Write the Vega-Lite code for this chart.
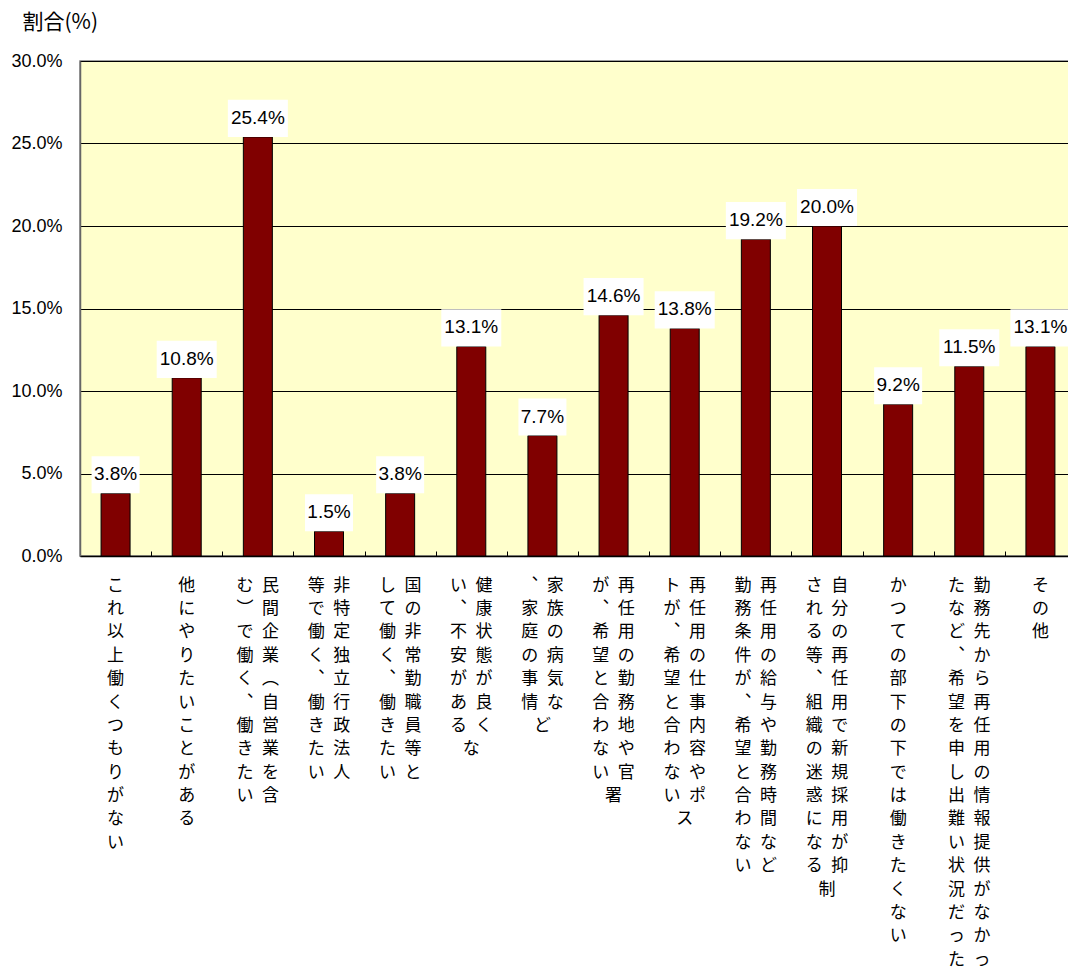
{
  "$schema": "https://vega.github.io/schema/vega-lite/v6.json",
  "autosize": {"type": "none"},
  "padding": {"left": 80, "top": 61, "right": -8, "bottom": 419},
  "width": 996,
  "height": 495,
  "background": "white",
  "config": {"view": {"fill": "#FFFFCC", "stroke": "#808080", "strokeWidth": 1.5}},
  "data": {"values": [
    {"理由": "これ以上働くつもりがない", "割合": 3.8, "表示": "3.8%"},
    {"理由": "他にやりたいことがある", "割合": 10.8, "表示": "10.8%"},
    {"理由": "民間企業（自営業を含\nむ）で働く、働きたい", "割合": 25.4, "表示": "25.4%"},
    {"理由": "非特定独立行政法人\n等で働く、働きたい", "割合": 1.5, "表示": "1.5%"},
    {"理由": "国の非常勤職員等と\nして働く、働きたい", "割合": 3.8, "表示": "3.8%"},
    {"理由": "健康状態が良くな\nい、不安がある", "割合": 12.7, "表示": "13.1%"},
    {"理由": "家族の病気など\n、家庭の事情", "割合": 7.3, "表示": "7.7%"},
    {"理由": "再任用の勤務地や官署\nが、希望と合わない", "割合": 14.6, "表示": "14.6%"},
    {"理由": "再任用の仕事内容やポス\nトが、希望と合わない", "割合": 13.8, "表示": "13.8%"},
    {"理由": "再任用の給与や勤務時間など\n勤務条件が、希望と合わない", "割合": 19.2, "表示": "19.2%"},
    {"理由": "自分の再任用で新規採用が抑制\nされる等、組織の迷惑になる", "割合": 20.0, "表示": "20.0%"},
    {"理由": "かつての部下の下では働きたくない", "割合": 9.2, "表示": "9.2%"},
    {"理由": "勤務先から再任用の情報提供がなかっ\nたなど、希望を申し出難い状況だった", "割合": 11.5, "表示": "11.5%"},
    {"理由": "その他", "割合": 12.7, "表示": "13.1%"}
  ]},
  "resolve": {"axis": {"x": "independent"}},
  "encoding": {
    "y": {
      "field": "割合", "type": "quantitative",
      "scale": {"domain": [0, 30], "nice": false},
      "axis": {
        "values": [0, 5, 10, 15, 20, 25, 30],
        "labelExpr": "format(datum.value, '.1f') + '%'",
        "title": "割合(%)", "titleAngle": 0, "titleX": -58, "titleY": -39,
        "titleAlign": "left", "titleBaseline": "middle",
        "titleFont": "Noto Sans CJK JP", "titleFontSize": 21, "titleFontWeight": "normal", "titleColor": "#000",
        "labelFont": "Liberation Sans", "labelFontSize": 18, "labelColor": "#000", "labelPadding": 24,
        "grid": true, "gridColor": "#000", "gridWidth": 1,
        "domainColor": "#666", "domainWidth": 1.5,
        "tickColor": "#000", "tickSize": -6
      }
    }
  },
  "layer": [
    {
      "mark": {"type": "bar", "size": 29, "color": "#800000", "stroke": "#000", "strokeWidth": 1},
      "encoding": {
        "x": {
          "field": "理由", "type": "nominal", "sort": null,
          "scale": {"paddingInner": 0, "paddingOuter": 0},
          "axis": {"orient": "bottom", "title": null, "labels": false, "domain": false, "grid": false,
                   "ticks": true, "tickBand": "extent", "tickColor": "#000", "tickSize": -5, "tickWidth": 1}
        }
      }
    },
    {
      "transform": [{"filter": "length(datum['表示']) > 4"}],
      "mark": {"type": "point", "filled": true, "color": "white", "opacity": 1, "size": 3600, "shape": "M-1,-0.62H1V0.62H-1Z", "yOffset": -18.5},
      "encoding": {
        "x": {
          "field": "理由", "type": "nominal", "sort": null,
          "axis": {
            "orient": "bottom", "title": null, "labelAngle": 0, "labelAlign": "center", "labelBaseline": "top",
            "labelFont": "Noto Sans CJK JP", "labelFontSize": 17, "labelLineHeight": 23.4,
            "labelColor": "#000", "labelPadding": 21, "labelOverlap": false, "labelLimit": 1000,
            "labelBound": false, "labelFlush": false, "grid": false,
            "domainColor": "#000", "domainWidth": 1.5,
            "ticks": false,
            "labelExpr": "[(indexof(datum.value,'\\n')<0?'':(substring(split(replace(replace(replace(datum.value,'、','︑'),'（','︵'),'）','︶'),'\\n')[1],0,1)||'\u3000')+'\u2002')+(substring(split(replace(replace(replace(datum.value,'、','︑'),'（','︵'),'）','︶'),'\\n')[0],0,1)||'\u3000'),(indexof(datum.value,'\\n')<0?'':(substring(split(replace(replace(replace(datum.value,'、','︑'),'（','︵'),'）','︶'),'\\n')[1],1,2)||'\u3000')+'\u2002')+(substring(split(replace(replace(replace(datum.value,'、','︑'),'（','︵'),'）','︶'),'\\n')[0],1,2)||'\u3000'),(indexof(datum.value,'\\n')<0?'':(substring(split(replace(replace(replace(datum.value,'、','︑'),'（','︵'),'）','︶'),'\\n')[1],2,3)||'\u3000')+'\u2002')+(substring(split(replace(replace(replace(datum.value,'、','︑'),'（','︵'),'）','︶'),'\\n')[0],2,3)||'\u3000'),(indexof(datum.value,'\\n')<0?'':(substring(split(replace(replace(replace(datum.value,'、','︑'),'（','︵'),'）','︶'),'\\n')[1],3,4)||'\u3000')+'\u2002')+(substring(split(replace(replace(replace(datum.value,'、','︑'),'（','︵'),'）','︶'),'\\n')[0],3,4)||'\u3000'),(indexof(datum.value,'\\n')<0?'':(substring(split(replace(replace(replace(datum.value,'、','︑'),'（','︵'),'）','︶'),'\\n')[1],4,5)||'\u3000')+'\u2002')+(substring(split(replace(replace(replace(datum.value,'、','︑'),'（','︵'),'）','︶'),'\\n')[0],4,5)||'\u3000'),(indexof(datum.value,'\\n')<0?'':(substring(split(replace(replace(replace(datum.value,'、','︑'),'（','︵'),'）','︶'),'\\n')[1],5,6)||'\u3000')+'\u2002')+(substring(split(replace(replace(replace(datum.value,'、','︑'),'（','︵'),'）','︶'),'\\n')[0],5,6)||'\u3000'),(indexof(datum.value,'\\n')<0?'':(substring(split(replace(replace(replace(datum.value,'、','︑'),'（','︵'),'）','︶'),'\\n')[1],6,7)||'\u3000')+'\u2002')+(substring(split(replace(replace(replace(datum.value,'、','︑'),'（','︵'),'）','︶'),'\\n')[0],6,7)||'\u3000'),(indexof(datum.value,'\\n')<0?'':(substring(split(replace(replace(replace(datum.value,'、','︑'),'（','︵'),'）','︶'),'\\n')[1],7,8)||'\u3000')+'\u2002')+(substring(split(replace(replace(replace(datum.value,'、','︑'),'（','︵'),'）','︶'),'\\n')[0],7,8)||'\u3000'),(indexof(datum.value,'\\n')<0?'':(substring(split(replace(replace(replace(datum.value,'、','︑'),'（','︵'),'）','︶'),'\\n')[1],8,9)||'\u3000')+'\u2002')+(substring(split(replace(replace(replace(datum.value,'、','︑'),'（','︵'),'）','︶'),'\\n')[0],8,9)||'\u3000'),(indexof(datum.value,'\\n')<0?'':(substring(split(replace(replace(replace(datum.value,'、','︑'),'（','︵'),'）','︶'),'\\n')[1],9,10)||'\u3000')+'\u2002')+(substring(split(replace(replace(replace(datum.value,'、','︑'),'（','︵'),'）','︶'),'\\n')[0],9,10)||'\u3000'),(indexof(datum.value,'\\n')<0?'':(substring(split(replace(replace(replace(datum.value,'、','︑'),'（','︵'),'）','︶'),'\\n')[1],10,11)||'\u3000')+'\u2002')+(substring(split(replace(replace(replace(datum.value,'、','︑'),'（','︵'),'）','︶'),'\\n')[0],10,11)||'\u3000'),(indexof(datum.value,'\\n')<0?'':(substring(split(replace(replace(replace(datum.value,'、','︑'),'（','︵'),'）','︶'),'\\n')[1],11,12)||'\u3000')+'\u2002')+(substring(split(replace(replace(replace(datum.value,'、','︑'),'（','︵'),'）','︶'),'\\n')[0],11,12)||'\u3000'),(indexof(datum.value,'\\n')<0?'':(substring(split(replace(replace(replace(datum.value,'、','︑'),'（','︵'),'）','︶'),'\\n')[1],12,13)||'\u3000')+'\u2002')+(substring(split(replace(replace(replace(datum.value,'、','︑'),'（','︵'),'）','︶'),'\\n')[0],12,13)||'\u3000'),(indexof(datum.value,'\\n')<0?'':(substring(split(replace(replace(replace(datum.value,'、','︑'),'（','︵'),'）','︶'),'\\n')[1],13,14)||'\u3000')+'\u2002')+(substring(split(replace(replace(replace(datum.value,'、','︑'),'（','︵'),'）','︶'),'\\n')[0],13,14)||'\u3000'),(indexof(datum.value,'\\n')<0?'':(substring(split(replace(replace(replace(datum.value,'、','︑'),'（','︵'),'）','︶'),'\\n')[1],14,15)||'\u3000')+'\u2002')+(substring(split(replace(replace(replace(datum.value,'、','︑'),'（','︵'),'）','︶'),'\\n')[0],14,15)||'\u3000'),(indexof(datum.value,'\\n')<0?'':(substring(split(replace(replace(replace(datum.value,'、','︑'),'（','︵'),'）','︶'),'\\n')[1],15,16)||'\u3000')+'\u2002')+(substring(split(replace(replace(replace(datum.value,'、','︑'),'（','︵'),'）','︶'),'\\n')[0],15,16)||'\u3000'),(indexof(datum.value,'\\n')<0?'':(substring(split(replace(replace(replace(datum.value,'、','︑'),'（','︵'),'）','︶'),'\\n')[1],16,17)||'\u3000')+'\u2002')+(substring(split(replace(replace(replace(datum.value,'、','︑'),'（','︵'),'）','︶'),'\\n')[0],16,17)||'\u3000')]"
          }
        }
      }
    },
    {
      "transform": [{"filter": "length(datum['表示']) <= 4"}],
      "mark": {"type": "point", "filled": true, "color": "white", "opacity": 1, "size": 2304, "shape": "M-1,-0.77H1V0.77H-1Z", "yOffset": -18.5},
      "encoding": {"x": {"field": "理由", "type": "nominal", "sort": null, "axis": null}}
    },
    {
      "mark": {"type": "text", "font": "Liberation Sans", "fontSize": 19, "baseline": "middle", "yOffset": -19, "color": "#000"},
      "encoding": {
        "x": {"field": "理由", "type": "nominal", "sort": null, "axis": null},
        "text": {"field": "表示"}
      }
    }
  ]
}
